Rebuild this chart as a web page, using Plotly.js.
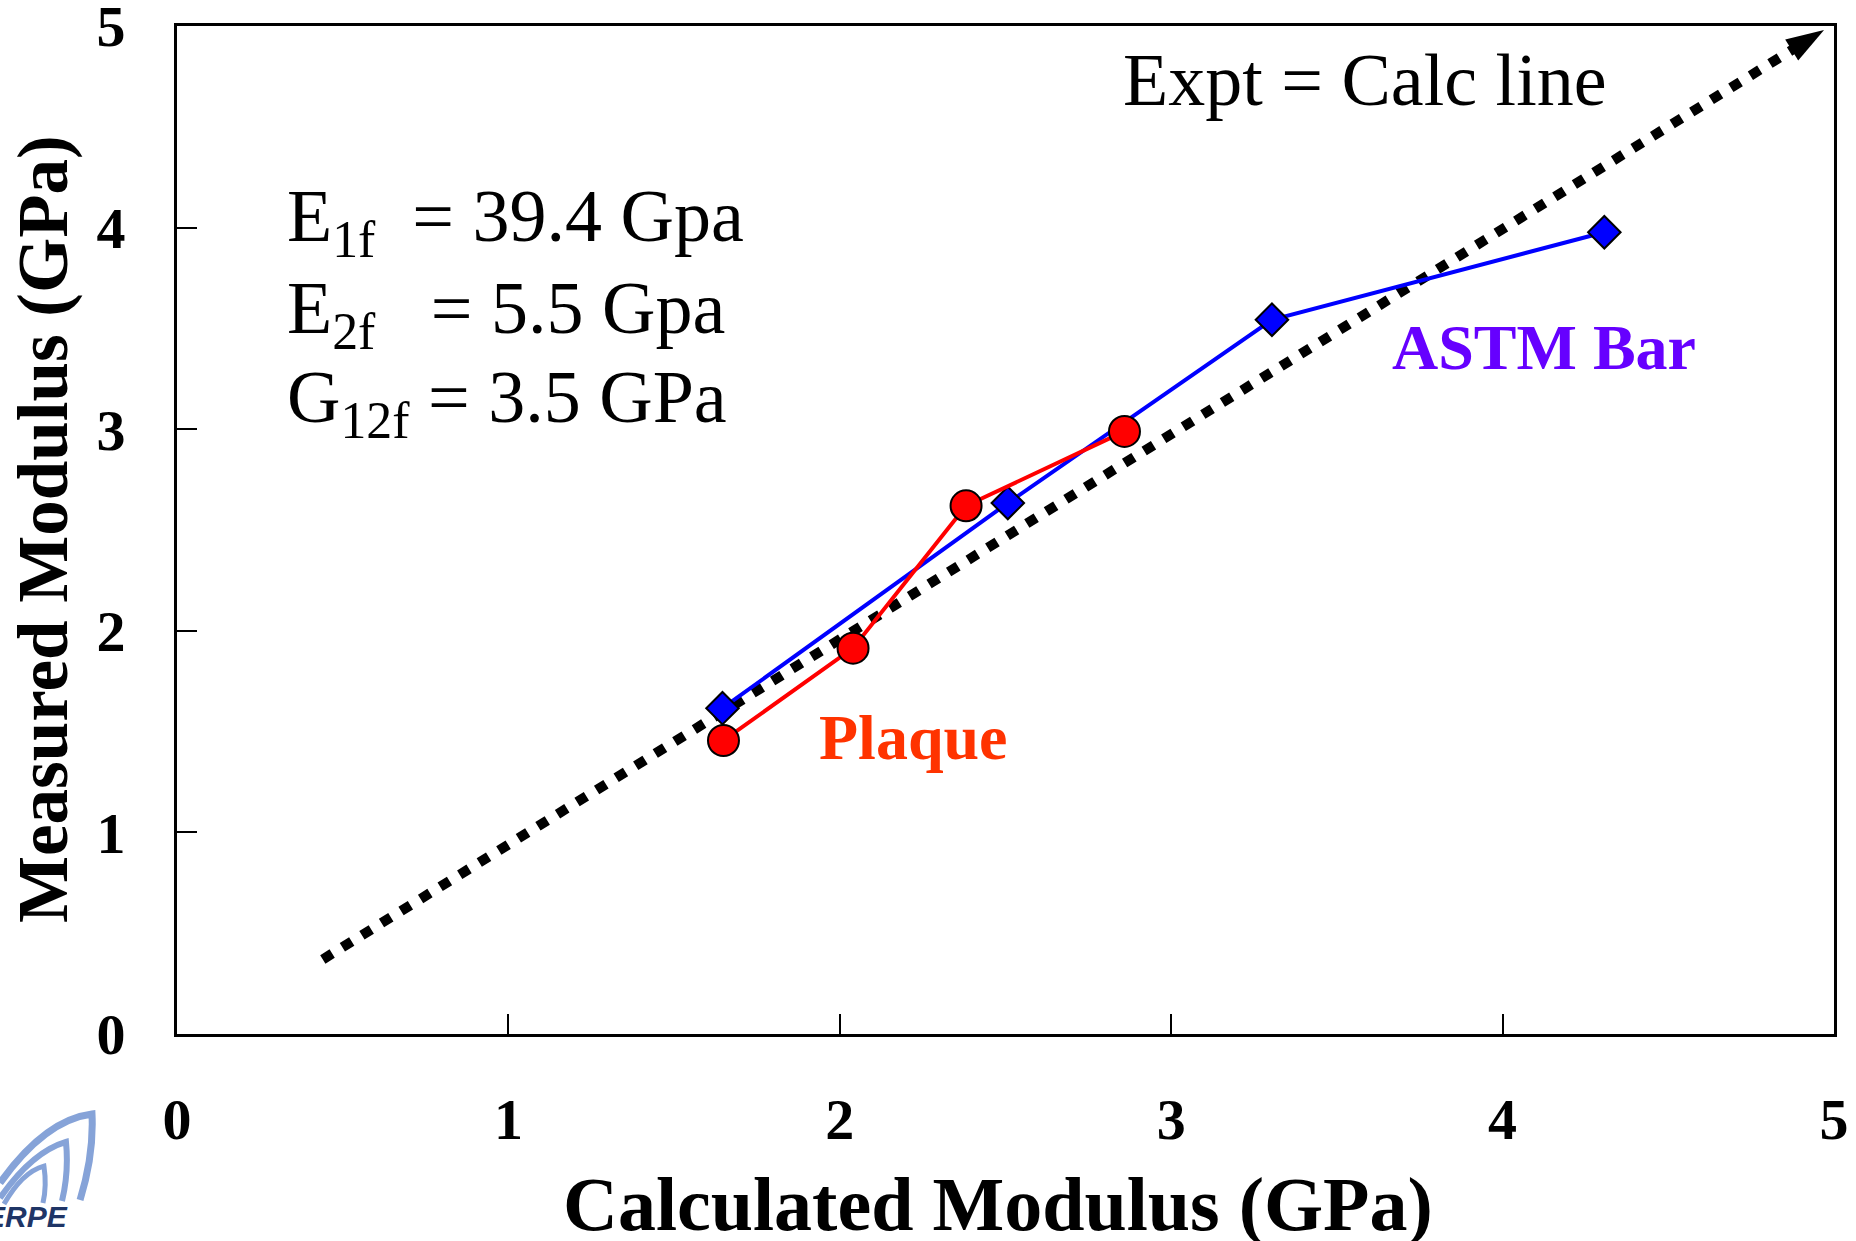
<!DOCTYPE html>
<html>
<head>
<meta charset="utf-8">
<script src="https://cdn.plot.ly/plotly-3.0.1.min.js"></script>
<style>
  html, body { margin: 0; padding: 0; background: #ffffff; }
  #chart { width: 1856px; height: 1241px; }
</style>
</head>
<body>
<div id="chart"></div>
<script>
// ---- data ----
const plaqueCalc = [1.649, 2.040, 2.381, 2.859];
const plaqueMeas = [1.456, 1.914, 2.620, 2.989];

const astmCalc = [1.646, 2.507, 3.304, 4.307];
const astmMeas = [1.616, 2.634, 3.543, 3.977];

const equalityCalc = [0.44, 4.97];
const equalityMeas = [0.37, 4.98];

const tickVals = [0, 1, 2, 3, 4, 5];
const tickText = ['0', '1', '2', '3', '4', '5'];

const serif = 'Liberation Serif, Times New Roman, serif';
const NB = '\u00A0';

// page-pixel -> paper coordinates (plot area 177..1834 x 26..1034), used only for the logo decoration
function px(x) { return ((x - 177) / 1657).toFixed(4); }
function py(y) { return ((1034 - y) / 1008).toFixed(4); }
function P(x, y) { return px(x) + ',' + py(y); }

const logoColor = '#86A3D8';
const logoShapes = [
  { type: 'path', xref: 'paper', yref: 'paper', layer: 'above',
    path: 'M' + P(0, 1183) + ' Q' + P(45, 1120) + ' ' + P(92, 1114) + ' Q' + P(94, 1155) + ' ' + P(80, 1200),
    line: { color: logoColor, width: 7 } },
  { type: 'path', xref: 'paper', yref: 'paper', layer: 'above',
    path: 'M' + P(0, 1198) + ' Q' + P(32, 1152) + ' ' + P(66, 1142) + ' Q' + P(69, 1172) + ' ' + P(62, 1201),
    line: { color: logoColor, width: 6 } },
  { type: 'path', xref: 'paper', yref: 'paper', layer: 'above',
    path: 'M' + P(4, 1204) + ' Q' + P(22, 1172) + ' ' + P(44, 1166) + ' Q' + P(47, 1186) + ' ' + P(43, 1203),
    line: { color: logoColor, width: 5 } }
];

const traces = [
  {
    x: equalityCalc, y: equalityMeas,
    mode: 'lines+markers',
    line: { color: '#000000', width: 10, dash: '11px,12px' },
    marker: { symbol: ['circle', 'arrow'], size: [1, 40], opacity: [0, 1],
              color: '#000000', angleref: 'previous', line: { width: 0 } },
    showlegend: false, hoverinfo: 'skip'
  },
  {
    x: astmCalc, y: astmMeas,
    mode: 'lines+markers',
    line: { color: '#0000FF', width: 4 },
    marker: { symbol: 'diamond', size: 25, color: '#0000FF',
              line: { color: '#000000', width: 2 } },
    showlegend: false
  },
  {
    x: plaqueCalc, y: plaqueMeas,
    mode: 'lines+markers',
    line: { color: '#FF0000', width: 4 },
    marker: { symbol: 'circle', size: 31, color: '#FF0000',
              line: { color: '#000000', width: 2 } },
    showlegend: false
  }
];

const layout = {
  width: 1856, height: 1241,
  margin: { l: 177, r: 22, t: 26, b: 207, pad: 0 },
  paper_bgcolor: '#ffffff', plot_bgcolor: '#ffffff',
  showlegend: false,
  font: { family: serif, color: '#000000' },
  xaxis: {
    range: [0, 5], tickvals: tickVals, ticktext: tickText,
    ticks: 'inside', ticklen: 20, tickwidth: 2, tickcolor: '#000000',
    showline: true, linewidth: 3, linecolor: '#000000', mirror: true,
    showgrid: false, zeroline: false,
    ticklabelstandoff: 32, ticklabeloverflow: 'allow',
    tickfont: { family: serif, size: 58, color: '#000000', weight: 'bold' }
  },
  yaxis: {
    range: [0, 5], tickvals: tickVals, ticktext: tickText,
    ticks: 'inside', ticklen: 20, tickwidth: 2, tickcolor: '#000000',
    showline: true, linewidth: 3, linecolor: '#000000', mirror: true,
    showgrid: false, zeroline: false,
    ticklabelstandoff: 37, ticklabeloverflow: 'allow',
    tickfont: { family: serif, size: 58, color: '#000000', weight: 'bold' }
  },
  shapes: logoShapes,
  annotations: [
    { xref: 'paper', yref: 'paper', x: 0.4955, y: -0.1696, xanchor: 'center', yanchor: 'middle',
      text: '<b>Calculated Modulus (GPa)</b>', showarrow: false,
      font: { family: serif, size: 76, color: '#000000' } },
    { xref: 'paper', yref: 'paper', x: -0.0803, y: 0.501, xanchor: 'center', yanchor: 'middle',
      text: '<b>Measured Modulus (GPa)</b>', textangle: -90, showarrow: false,
      font: { family: serif, size: 71, color: '#000000' } },
    { xref: 'x', yref: 'y', x: 2.848, y: 4.734, xanchor: 'left', yanchor: 'middle',
      text: 'Expt = Calc line', showarrow: false,
      font: { family: serif, size: 74, color: '#000000' } },
    { xref: 'x', yref: 'y', x: 0.327, y: 4.03, xanchor: 'left', yanchor: 'middle',
      text: 'E<sub>1f</sub>' + NB + NB + '= 39.4 Gpa', showarrow: false,
      font: { family: serif, size: 74, color: '#000000' } },
    { xref: 'x', yref: 'y', x: 0.327, y: 3.576, xanchor: 'left', yanchor: 'middle',
      text: 'E<sub>2f</sub>' + NB + NB + NB + '= 5.5 Gpa', showarrow: false,
      font: { family: serif, size: 74, color: '#000000' } },
    { xref: 'x', yref: 'y', x: 0.327, y: 3.134, xanchor: 'left', yanchor: 'middle',
      text: 'G<sub>12f</sub> = 3.5 GPa', showarrow: false,
      font: { family: serif, size: 74, color: '#000000' } },
    { xref: 'x', yref: 'y', x: 4.126, y: 3.405, xanchor: 'center', yanchor: 'middle',
      text: '<b>ASTM Bar</b>', showarrow: false,
      font: { family: serif, size: 64, color: '#6600FF' } },
    { xref: 'x', yref: 'y', x: 2.221, y: 1.469, xanchor: 'center', yanchor: 'middle',
      text: '<b>Plaque</b>', showarrow: false,
      font: { family: serif, size: 64, color: '#FF3300' } },
    { xref: 'paper', yref: 'paper', x: px(70), y: py(1217), xanchor: 'right', yanchor: 'middle',
      text: '<b><i>ERPE</i></b>', showarrow: false,
      font: { family: 'Liberation Sans, Arial, sans-serif', size: 30, color: '#1F3566' } }
  ]
};

Plotly.newPlot('chart', traces, layout, { displayModeBar: false, staticPlot: true });
</script>
</body>
</html>
